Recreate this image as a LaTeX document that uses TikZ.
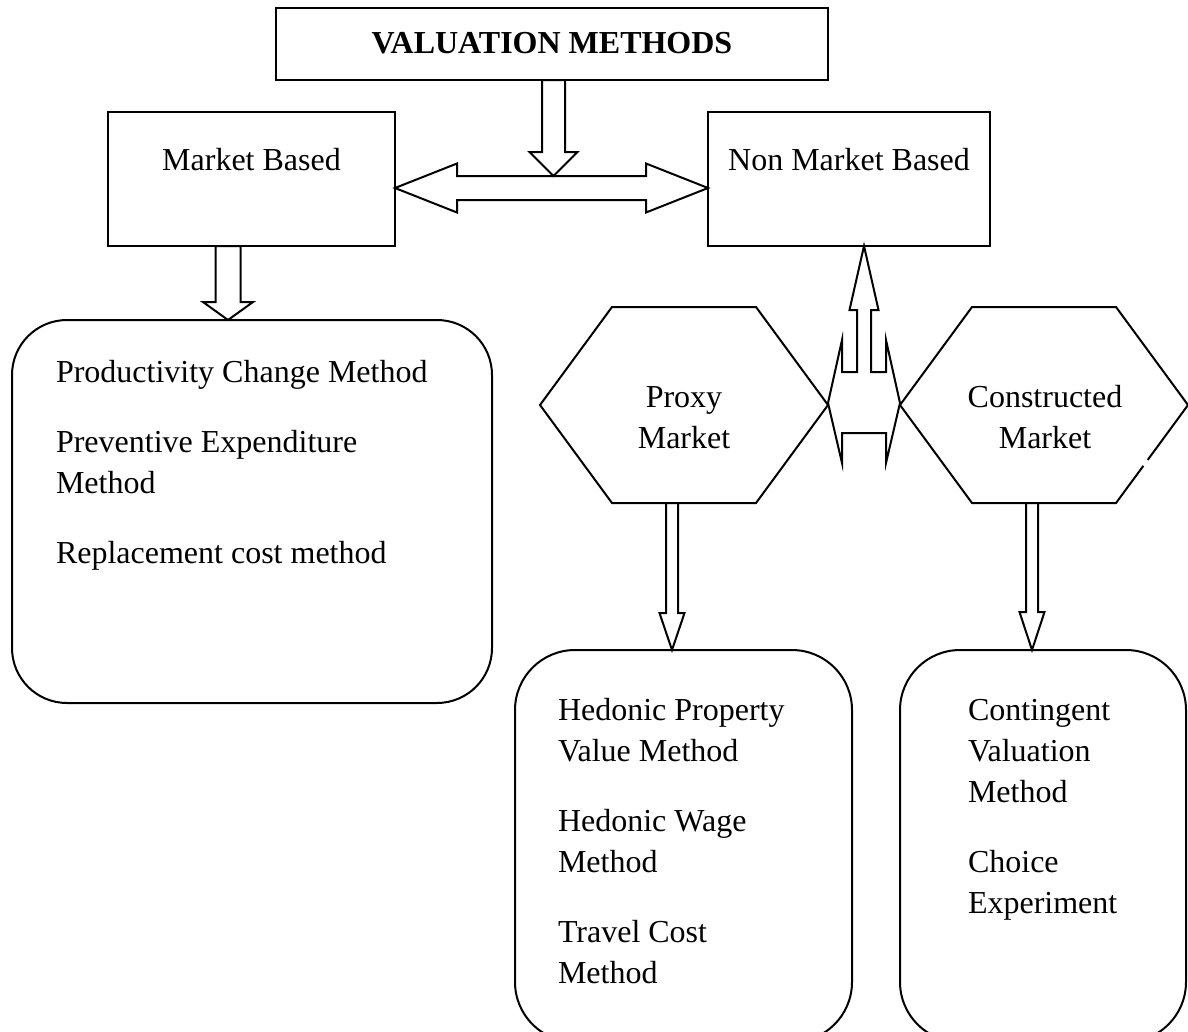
\documentclass[tikz,border=0pt]{standalone}
\usepackage{fontspec}
\setmainfont{Liberation Serif}
\usetikzlibrary{calc}
\newcommand{\blkdown}[5]{%
  \draw[blockarrow] let \p1=(#1), \p2=(#2) in
    (\x2-#3,\y1) -- (\x2-#3,\y2+#5) -- (\x2-#4,\y2+#5) -- (\x2,\y2)
    -- (\x2+#4,\y2+#5) -- (\x2+#3,\y2+#5) -- (\x2+#3,\y1) -- cycle;}
\newcommand{\blkdouble}[5]{%
  \draw[blockarrow] let \p1=(#1), \p2=(#2) in
    (\x1,\y1) -- (\x1+#5,\y1+#4) -- (\x1+#5,\y1+#3) -- (\x2-#5,\y2+#3)
    -- (\x2-#5,\y2+#4) -- (\x2,\y2) -- (\x2-#5,\y2-#4) -- (\x2-#5,\y2-#3)
    -- (\x1+#5,\y1-#3) -- (\x1+#5,\y1-#4) -- cycle;}
\begin{document}
\begin{tikzpicture}[x=1pt,y=-1pt,
  every node/.style={inner sep=0pt, outer sep=0pt},
  frame/.style={draw, line width=2pt},
  roundframe/.style={draw, line width=2pt, rounded corners=#1},
  blockarrow/.style={draw, line width=2pt, fill=white, line join=miter},
  lbl/.style={font=\fontsize{32}{40}\selectfont, anchor=base west},
  clbl/.style={font=\fontsize{32}{40}\selectfont, anchor=base},
  blbl/.style={font=\fontsize{32}{40}\selectfont\bfseries, anchor=base}]
\useasboundingbox (0,0) rectangle (1188,1031);

% top row
\node[frame, minimum width=552pt, minimum height=72pt] (vm) at (552,44) {};
\node[blbl] (vmt) at (552,53) {VALUATION METHODS};
\node[frame, minimum width=287pt, minimum height=134pt] (mb) at (251.5,179) {};
\node[clbl] (mbt) at (mb.north |- 0,170) {Market Based};
\node[frame, minimum width=282pt, minimum height=134pt] (nmb) at (849,179) {};
\node[clbl] (nmbt) at (nmb.north |- 0,170) {Non Market Based};

% left rounded box
\node[roundframe=55pt, minimum width=480pt, minimum height=383pt] (lb) at (252,511.5) {};
\node[lbl] (lb1) at (56,382) {Productivity Change Method};
\node[lbl] (lb2) at (56,452) {Preventive Expenditure};
\node[lbl] (lb3) at (56,493) {Method};
\node[lbl] (lb4) at (56,563) {Replacement cost method};

% hexagons
\coordinate (px) at (684,405);
\draw[frame] ($(px)+(-144,0)$) -- ($(px)+(-72,-98)$) -- ($(px)+(72,-98)$)
  -- ($(px)+(144,0)$) -- ($(px)+(72,98)$) -- ($(px)+(-72,98)$) -- cycle;
\node[clbl] (pxt1) at ($(px)+(0,2)$) {Proxy};
\node[clbl] (pxt2) at ($(px)+(0,43)$) {Market};

\coordinate (cx) at (1044,405);
\draw[frame, line join=miter] ($(cx)+(99.4,60.8)$) -- ($(cx)+(72,98)$) -- ($(cx)+(-72,98)$)
  -- ($(cx)+(-144,0)$) -- ($(cx)+(-72,-98)$) -- ($(cx)+(72,-98)$)
  -- ($(cx)+(144,0)$) -- ($(cx)+(103.7,54.9)$);
\node[clbl] (cxt1) at ($(cx)+(1,2)$) {Constructed};
\node[clbl] (cxt2) at ($(cx)+(1,43)$) {Market};

% bottom rounded boxes
\node[roundframe=60pt, minimum width=337pt, minimum height=392pt] (pb) at (683.5,846) {};
\node[lbl] (pb1) at (558,720) {Hedonic Property};
\node[lbl] (pb2) at (558,761) {Value Method};
\node[lbl] (pb3) at (558,831) {Hedonic Wage};
\node[lbl] (pb4) at (558,872) {Method};
\node[lbl] (pb5) at (558,942) {Travel Cost};
\node[lbl] (pb6) at (558,983) {Method};

\node[roundframe=60pt, minimum width=286pt, minimum height=392pt] (cb) at (1043,846) {};
\node[lbl] (cb1) at (968,720) {Contingent};
\node[lbl] (cb2) at (968,761) {Valuation};
\node[lbl] (cb3) at (968,802) {Method};
\node[lbl] (cb4) at (968,872) {Choice};
\node[lbl] (cb5) at (968,913) {Experiment};

% block arrows
\coordinate (hl) at (mb.east |- 0,188);
\coordinate (hr) at (nmb.west |- 0,188);
\blkdouble{hl}{hr}{12pt}{24.5pt}{62pt}

\coordinate (t1) at (553.5,176);
\blkdown{vm.south -| t1}{t1}{11.5pt}{24pt}{24pt}

\coordinate (t2) at (228,0);
\blkdown{mb.south -| t2}{lb.north -| t2}{12.5pt}{25pt}{18pt}

\coordinate (t3) at (672,503);
\blkdown{t3}{pb.north -| t3}{6pt}{12.5pt}{37pt}

\coordinate (t4) at (1032,503);
\blkdown{t4}{cb.north -| t4}{6pt}{12.5pt}{38pt}

% left-right-up arrow between the hexagons
\coordinate (c) at (864,403);
\draw[blockarrow] (c |- nmb.south) -- ($(c)+(14.5,-93)$) -- ($(c)+(7,-93)$)
  -- ($(c)+(7,-31)$) -- ($(c)+(22,-31)$) -- ($(c)+(22,-63)$) -- ($(c)+(36,0)$)
  -- ($(c)+(22,60)$) -- ($(c)+(22,30)$) -- ($(c)+(-22,30)$) -- ($(c)+(-22,60)$)
  -- ($(c)+(-36,0)$) -- ($(c)+(-22,-63)$) -- ($(c)+(-22,-31)$) -- ($(c)+(-7,-31)$)
  -- ($(c)+(-7,-93)$) -- ($(c)+(-14.5,-93)$) -- cycle;
\end{tikzpicture}
\end{document}
